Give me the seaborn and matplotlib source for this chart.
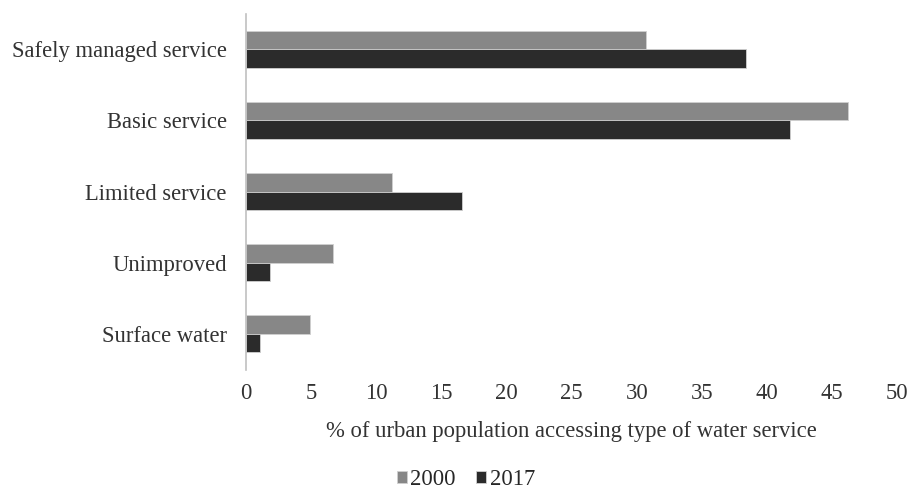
import matplotlib
matplotlib.use("Agg")
import matplotlib.pyplot as plt
import seaborn as sns
import pandas as pd

categories = ["Safely managed service", "Basic service", "Limited service", "Unimproved", "Surface water"]
years = ["2000", "2017"]
values_2000 = [30.7, 46.2, 11.2, 6.7, 4.9]
values_2017 = [38.4, 41.8, 16.6, 1.8, 1.1]
xticks = [0, 5, 10, 15, 20, 25, 30, 35, 40, 45, 50]

df = pd.DataFrame({
    "category": categories * 2,
    "year": [years[0]] * len(categories) + [years[1]] * len(categories),
    "value": values_2000 + values_2017,
})

sns.set_theme(style="white")
plt.rcParams["font.family"] = ["Liberation Serif", "DejaVu Serif"]

fig = plt.figure(figsize=(9.08, 4.93), dpi=100)
ax = fig.add_axes([0.271, 0.2505, 0.717, 0.722])

sns.barplot(data=df, y="category", x="value", hue="year", order=categories,
            hue_order=years, palette=["#878787", "#2b2b2b"], orient="h",
            width=0.52, ax=ax, edgecolor="#d0d0d0", linewidth=0.6, legend=True)

fs = 16.3
ax.set_xlim(0, 50)
ax.set_xticks(xticks)
ax.set_xticklabels([str(t) for t in xticks])
ax.set_ylim(4.5, -0.5)
ax.tick_params(axis="both", length=0, labelsize=fs, colors="#333333")
ax.tick_params(axis="x", pad=10)
ax.tick_params(axis="y", pad=14)
for s in ["top", "right", "bottom"]:
    ax.spines[s].set_visible(False)
ax.spines["left"].set_color("#c0c0c0")
ax.spines["left"].set_linewidth(1.2)
ax.set_ylabel("")
ax.set_xlabel("% of urban population accessing type of water service",
              fontsize=fs, color="#333333", labelpad=12)

ax.legend_.remove()
handles, labels = ax.get_legend_handles_labels()
fig.legend(handles[:2], years, loc="lower center", bbox_to_anchor=(0.513, -0.035),
           ncol=2, frameon=False, fontsize=fs, handlelength=0.45, handleheight=0.45,
           handletextpad=0.15, columnspacing=0.9)

fig.savefig("out.png", dpi=100)
